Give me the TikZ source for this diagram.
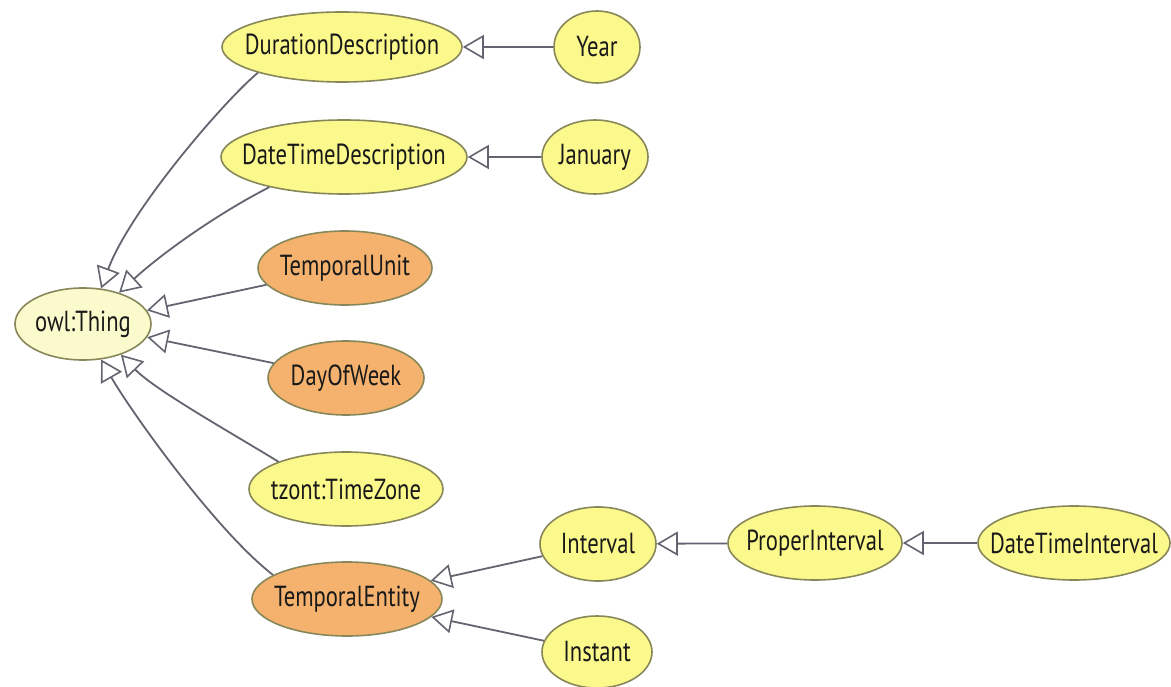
\documentclass[tikz,border=0pt]{standalone}
\usepackage{fontspec}
\setmainfont{PT Sans}[FakeStretch=0.78]
\usetikzlibrary{shapes.geometric,arrows.meta}
\definecolor{clsyellow}{RGB}{252,249,140}
\definecolor{clsorange}{RGB}{244,178,110}
\definecolor{thingfill}{RGB}{250,250,205}
\definecolor{clsborder}{RGB}{135,135,90}
\definecolor{edgegray}{RGB}{100,100,112}
\tikzset{
  cls/.style={ellipse, draw=clsborder, line width=1.6pt, fill=clsyellow, inner sep=0pt,
    font=\fontsize{29}{30}\selectfont, text=black!90},
  abs/.style={cls, fill=clsorange},
  top/.style={cls, fill=thingfill},
  isa/.style={draw=edgegray, line width=1.8pt, -{Triangle[open, length=21pt, width=24pt, line width=1.6pt]}},
}
\newcommand{\lbl}[1]{\makebox[0pt]{#1}}
\begin{document}
\begin{tikzpicture}[x=1pt,y=1pt]
\fill[white] (0,0) rectangle (1171,-687);
\useasboundingbox (0,0) rectangle (1171,-687);
% nodes
\node[top, minimum width=136pt, minimum height=72pt] (thing) at (83,-324) {\lbl{owl:Thing}};
\node[cls, minimum width=240pt, minimum height=70pt] (dd) at (342,-47) {\lbl{DurationDescription}};
\node[cls, minimum width=86pt, minimum height=72pt] (year) at (597,-47) {\lbl{Year}};
\node[cls, minimum width=246pt, minimum height=74pt] (dtd) at (344,-157) {\lbl{DateTimeDescription}};
\node[cls, minimum width=106pt, minimum height=74pt] (jan) at (595,-157) {\lbl{January}};
\node[abs, minimum width=174pt, minimum height=74pt] (tu) at (345,-268) {\lbl{TemporalUnit}};
\node[abs, minimum width=156pt, minimum height=74pt] (dow) at (346,-378) {\lbl{DayOfWeek}};
\node[cls, minimum width=194pt, minimum height=74pt] (tz) at (346,-489) {\lbl{tzont:TimeZone}};
\node[abs, minimum width=190pt, minimum height=74pt] (te) at (347,-599) {\lbl{TemporalEntity}};
\node[cls, minimum width=116pt, minimum height=74pt] (interval) at (598,-544) {\lbl{Interval}};
\node[cls, minimum width=110pt, minimum height=72pt] (instant) at (597,-652) {\lbl{Instant}};
\node[cls, minimum width=174pt, minimum height=74pt] (pi) at (815,-543) {\lbl{ProperInterval}};
\node[cls, minimum width=192pt, minimum height=74pt] (dti) at (1074,-543) {\lbl{DateTimeInterval}};
% edges
\draw[isa] (dd.197) .. controls (225,-100) and (130,-210) .. (thing.63);
\draw[isa] (dtd.202) .. controls (215,-215) and (160,-255) .. (thing.41);
\draw[isa] (tu) -- (thing);
\draw[isa] (dow) -- (thing);
\draw[isa] (tz.158) .. controls (230,-432) and (155,-390) .. (thing.-39);
\draw[isa] (te.162) .. controls (215,-530) and (130,-410) .. (thing.-63);
\draw[isa] (year) -- (dd);
\draw[isa] (jan) -- (dtd);
\draw[isa] (interval) -- (te);
\draw[isa] (instant) -- (te);
\draw[isa] (pi) -- (interval);
\draw[isa] (dti) -- (pi);
\end{tikzpicture}
\end{document}
